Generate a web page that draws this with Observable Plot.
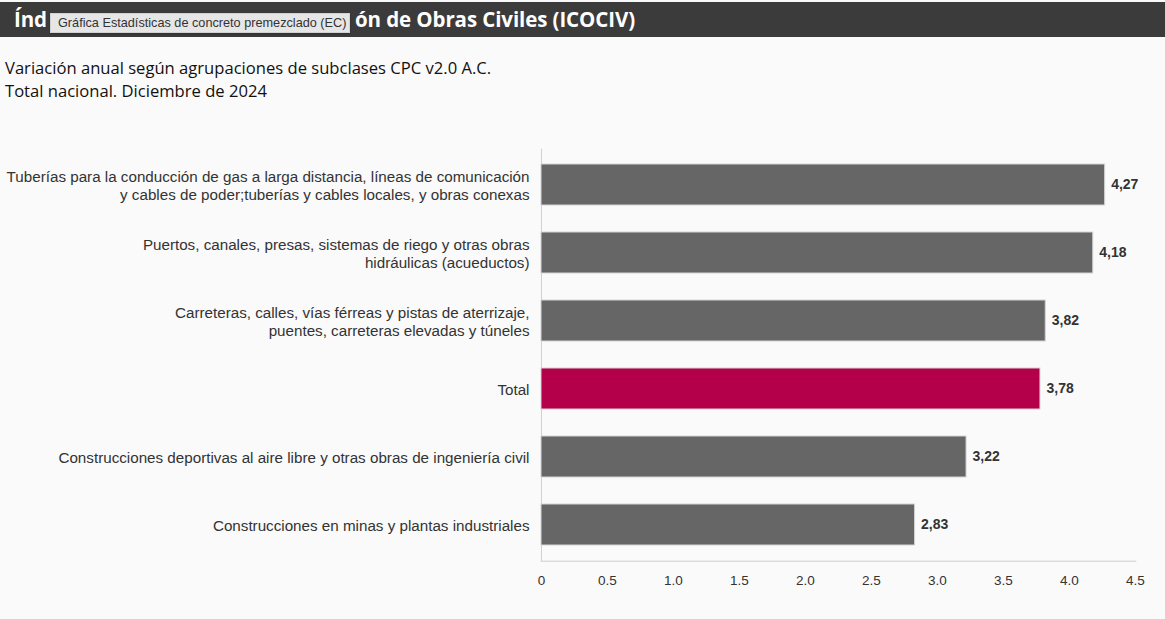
<!DOCTYPE html>
<html>
<head>
<meta charset="utf-8">
<script src="https://cdn.jsdelivr.net/npm/d3@7"></script>
<script src="https://cdn.jsdelivr.net/npm/@observablehq/plot@0.6"></script>
<style>
  html, body { margin: 0; padding: 0; background: #fafafa; width: 1165px; height: 619px; overflow: hidden; }
  #titlebar { position: absolute; left: 0; top: 2px; width: 1165px; height: 35px; background: #3b3b3b; overflow: hidden; }
  .tpart { position: absolute; top: 0; line-height: 35px; font-family: "Open Sans", sans-serif; font-weight: 700; font-size: 20.5px; color: #fff; white-space: nowrap; }
  #tooltip { position: absolute; left: 50px; top: 13px; width: 300px; height: 20px; box-sizing: border-box; padding: 0 0 0 7px; background: #e6e6e6; border: 1px solid #d2d2d2; font-family: "Liberation Sans", Arial, sans-serif; font-size: 12.7px; line-height: 18px; color: #333; white-space: nowrap; box-shadow: 0 1px 2px rgba(0,0,0,0.2); }
  #subtitle { position: absolute; left: 5px; top: 56px; font-family: "Open Sans", sans-serif; font-size: 16.6px; line-height: 23px; color: #111; white-space: nowrap; }
  #chart { position: absolute; left: 0; top: 110px; }
</style>
</head>
<body>
<div id="titlebar">
  <span class="tpart" id="t1" style="left:14px">Índ</span><span class="tpart" id="t3" style="left:355px">ón de Obras Civiles (ICOCIV)</span>
</div>
<div id="tooltip">Gráfica Estadísticas de concreto premezclado (EC)</div>
<div id="subtitle">Variación anual según agrupaciones de subclases CPC v2.0 A.C.<br>Total nacional. Diciembre de 2024</div>
<div id="chart"></div>
<script>
const categories = [
  "Tuberías para la conducción de gas a larga distancia, líneas de comunicación\ny cables de poder;tuberías y cables locales, y obras conexas",
  "Puertos, canales, presas, sistemas de riego y otras obras\nhidráulicas (acueductos)",
  "Carreteras, calles, vías férreas y pistas de aterrizaje,\npuentes, carreteras elevadas y túneles",
  "Total",
  "Construcciones deportivas al aire libre y otras obras de ingeniería civil",
  "Construcciones en minas y plantas industriales"
];
const values = [4.27, 4.18, 3.82, 3.78, 3.22, 2.83];
const highlight = "Total";
const xTicks = [0, 0.5, 1.0, 1.5, 2.0, 2.5, 3.0, 3.5, 4.0, 4.5];

const data = categories.map((c, i) => ({cat: c, value: values[i]}));

// fit the visible tail of the title to the reference width
const t3 = document.getElementById("t3");
const w3 = t3.getBoundingClientRect().width;
const n3 = t3.textContent.length;
const ls = (280 - w3) / n3;
document.querySelectorAll(".tpart").forEach(el => el.style.letterSpacing = ls + "px");

const chart = Plot.plot({
  width: 1165,
  height: 509,
  marginLeft: 541,
  marginRight: 30,
  marginTop: 38.65,
  marginBottom: 58.15,
  style: {background: "transparent", fontFamily: "'Liberation Sans', Arial, sans-serif", color: "#333"},
  x: {domain: [0, 4.5]},
  y: {domain: categories, paddingInner: 0.4, paddingOuter: 0.2},
  marks: [
    Plot.frame({anchor: "bottom", stroke: "#dcdcdc", strokeWidth: 1.5}),
    Plot.ruleX([0], {stroke: "#d0d0d0"}),
    Plot.barX(data, {
      x: "value",
      y: "cat",
      fill: d => d.cat === highlight ? "#b4004a" : "#666666",
      stroke: "#d4d4d4",
      strokeWidth: 1
    }),
    Plot.text(data, {
      x: "value",
      y: "cat",
      text: d => d.value.toFixed(2).replace(".", ","),
      dx: 6,
      textAnchor: "start",
      fontWeight: "bold",
      fontSize: 14,
      fill: "#333"
    }),
    Plot.axisY({tickSize: 0, tickPadding: 12, fontSize: 15.2, lineHeight: 1.2, label: null, fill: "#333", textOverflow: null}),
    Plot.axisX({ticks: xTicks, tickSize: 0, tickPadding: 14, fontSize: 13.5, label: null, fill: "#333",
      tickFormat: d => d === 0 ? "0" : d.toFixed(1)})
  ]
});
document.getElementById("chart").appendChild(chart);
</script>
</body>
</html>
